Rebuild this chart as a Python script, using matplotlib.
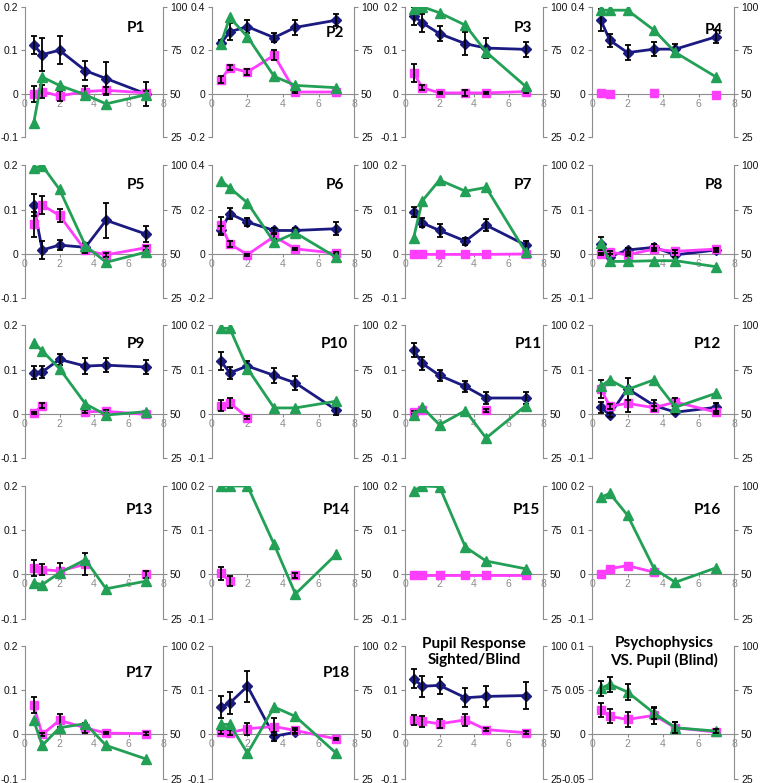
import numpy as np
import matplotlib.pyplot as plt

nan = np.nan

# time points (x axis)
DELAY = [0.5, 1, 2, 3.5, 4.7, 7]

PANELS = ['P1', 'P2', 'P3', 'P4', 'P5', 'P6', 'P7', 'P8', 'P9', 'P10',
          'P11', 'P12', 'P13', 'P14', 'P15', 'P16', 'P17', 'P18',
          'Pupil Response\nSighted/Blind', 'Psychophysics\nVS. Pupil (Blind)']

# left axis range per panel (low, high, step)
LEFT_RANGE = [(-0.1, 0.2, 0.1), (-0.2, 0.4, 0.2), (-0.1, 0.2, 0.1), (-0.2, 0.4, 0.2),
              (-0.1, 0.2, 0.1), (-0.2, 0.4, 0.2), (-0.1, 0.2, 0.1), (-0.1, 0.2, 0.1),
              (-0.1, 0.2, 0.1), (-0.1, 0.2, 0.1), (-0.1, 0.2, 0.1), (-0.1, 0.2, 0.1),
              (-0.1, 0.2, 0.1), (-0.1, 0.2, 0.1), (-0.1, 0.2, 0.1), (-0.1, 0.2, 0.1),
              (-0.1, 0.2, 0.1), (-0.1, 0.2, 0.1), (-0.1, 0.2, 0.1), (-0.05, 0.1, 0.05)]

NAVY = [[0.112, 0.09, 0.1, 0.053, 0.035, 0.0],
        [0.231, 0.285, 0.308, 0.258, 0.305, 0.338],
        [0.179, 0.163, 0.138, 0.115, 0.105, 0.102],
        [0.338, 0.246, 0.189, 0.205, 0.205, 0.262],
        [0.11, 0.009, 0.02, 0.015, 0.076, 0.045],
        [0.106, 0.182, 0.144, 0.106, 0.106, 0.114],
        [0.095, 0.07, 0.053, 0.029, 0.065, 0.02],
        [0.023, -0.006, 0.009, 0.015, -0.002, 0.009],
        [0.093, 0.095, 0.123, 0.108, 0.11, 0.106],
        [0.119, 0.093, 0.108, 0.087, 0.07, 0.009],
        [0.144, 0.114, 0.087, 0.062, 0.036, 0.036],
        [0.015, -0.002, 0.057, 0.019, 0.004, 0.015],
        [nan, nan, nan, nan, nan, nan],
        [nan, nan, nan, nan, nan, nan],
        [nan, nan, nan, nan, nan, nan],
        [nan, nan, nan, nan, nan, nan],
        [nan, nan, nan, nan, nan, nan],
        [0.062, 0.071, 0.109, -0.004, 0.005, nan],
        [0.126, 0.109, 0.111, 0.083, 0.086, 0.088],
        [nan, nan, nan, nan, nan, nan]]

NAVY_ERR = [[0.02, 0.038, 0.032, 0.022, 0.038, 0.028],
            [0.015, 0.04, 0.03, 0.022, 0.035, 0.028],
            [0.02, 0.02, 0.017, 0.026, 0.022, 0.017],
            [0.05, 0.03, 0.035, 0.032, 0.025, 0.03],
            [0.025, 0.02, 0.012, 0.01, 0.04, 0.018],
            [0.02, 0.025, 0.02, 0.01, 0.01, 0.03],
            [0.012, 0.01, 0.015, 0.008, 0.013, 0.01],
            [0.015, 0.005, 0.005, 0.008, 0.004, 0.005],
            [0.015, 0.014, 0.013, 0.018, 0.016, 0.016],
            [0.02, 0.013, 0.012, 0.017, 0.015, 0.012],
            [0.015, 0.015, 0.013, 0.012, 0.014, 0.013],
            [0.012, 0.004, 0.025, 0.012, 0.004, 0.01],
            [0, 0, 0, 0, 0, 0],
            [0, 0, 0, 0, 0, 0],
            [0, 0, 0, 0, 0, 0],
            [0, 0, 0, 0, 0, 0],
            [0, 0, 0, 0, 0, 0],
            [0.024, 0.024, 0.035, 0.01, 0.005, 0],
            [0.022, 0.024, 0.02, 0.022, 0.023, 0.03],
            [0, 0, 0, 0, 0, 0]]

PINK = [[0.0, 0.005, -0.005, 0.005, 0.008, 0.002],
        [0.065, 0.12, 0.1, 0.177, 0.008, 0.008],
        [0.048, 0.014, 0.002, 0.002, 0.002, 0.005],
        [0.003, -0.003, nan, 0.003, nan, -0.005],
        [0.067, 0.11, 0.087, 0.008, -0.002, 0.014],
        [0.129, 0.045, -0.003, 0.079, 0.023, 0.003],
        [-0.001, -0.001, -0.001, -0.001, -0.001, 0.0],
        [0.0, 0.004, -0.002, 0.011, 0.006, 0.011],
        [0.002, 0.019, nan, 0.005, 0.006, -0.001],
        [0.019, 0.025, -0.008, nan, nan, nan],
        [0.004, 0.008, nan, nan, 0.008, nan],
        [0.057, 0.017, 0.024, 0.014, 0.027, 0.004],
        [0.015, 0.011, 0.008, 0.023, nan, 0.0],
        [0.003, -0.015, nan, nan, -0.002, nan],
        [-0.001, -0.001, -0.001, -0.001, -0.001, -0.001],
        [0.001, 0.013, 0.02, 0.005, nan, nan],
        [0.066, 0.0, 0.032, 0.015, 0.003, 0.002],
        [0.005, 0.004, 0.013, 0.018, 0.009, -0.01],
        [0.033, 0.03, 0.024, 0.033, 0.011, 0.004],
        [0.028, 0.0205, 0.017, 0.0216, 0.0076, 0.0027]]

PINK_ERR = [[0.018, 0.015, 0.012, 0.012, 0.008, 0.005],
            [0.015, 0.012, 0.015, 0.022, 0.005, 0.005],
            [0.02, 0.005, 0.003, 0.006, 0.003, 0.003],
            [0, 0, 0, 0, 0, 0],
            [0.028, 0.02, 0.015, 0.005, 0.004, 0.005],
            [0.04, 0.015, 0.005, 0.01, 0.005, 0.005],
            [0, 0, 0, 0, 0, 0],
            [0.003, 0.003, 0.003, 0.003, 0.003, 0.003],
            [0.003, 0.005, 0, 0.003, 0.003, 0.003],
            [0.012, 0.012, 0.003, 0, 0, 0],
            [0.003, 0.003, 0, 0, 0.003, 0],
            [0.02, 0.005, 0.02, 0.005, 0.01, 0.003],
            [0.018, 0.012, 0.017, 0.025, 0, 0.008],
            [0.015, 0.012, 0, 0, 0.005, 0],
            [0, 0, 0, 0, 0, 0],
            [0, 0, 0, 0, 0, 0],
            [0.018, 0.003, 0.015, 0.012, 0.003, 0.003],
            [0.005, 0.005, 0.014, 0.02, 0.005, 0.003],
            [0.012, 0.012, 0.01, 0.014, 0.004, 0.003],
            [0.008, 0.008, 0.008, 0.01, 0.006, 0.002]]

# percent (right axis)
GREEN = [[33, 59.6, 54.8, 49.4, 44.2, 49.4],
         [78.8, 93.8, 82.7, 60, 54.8, 53.5],
         [98.5, 100, 96.5, 89.4, 74, 54.2],
         [98, 98, 98, 86.5, 73.7, 59.6],
         [98.3, 99.8, 86.4, 54.7, 45.3, 51],
         [91.3, 87.3, 78.8, 56.6, 61.9, 48.1],
         [59.1, 79.9, 91.7, 85.4, 87.5, 51],
         [56, 45.8, 45.8, 46.2, 46.2, 42.8],
         [90.3, 85.6, 75.6, 55.7, 49.4, 51.3],
         [98.3, 98.3, 75.6, 53.4, 53.4, 57.2],
         [49.6, 53.8, 43.9, 51.9, 36.4, 54.7],
         [65.5, 69.3, 63.8, 69.3, 53.8, 61.7],
         [45.3, 44.3, 50.9, 58.3, 41.9, 46.2],
         [100, 100, 100, 67, 39, 61.4],
         [97.3, 100, 99.6, 65.5, 57.6, 53.2],
         [93.6, 95.8, 83.5, 53.2, 45.6, 53.8],
         [58, 43.8, 53.8, 56.1, 43.8, 36.2],
         [55.7, 55.7, 39.4, 65.5, 60.2, 39.4],
         [nan, nan, nan, nan, nan, nan],
         [76, 78.4, 74, 62, 53.8, 51.9]]

GREEN_ERR = [[0, 0, 0, 0, 0, 0]] * 19 + [[4, 4.3, 4.5, 3, 3, 1]]

NAVY_C = '#1a1a80'
PINK_C = '#ff3dff'
GREEN_C = '#22a055'
GRAY = '#8c8c8c'

# layout in pixels
COL_LEFT = [25, 212, 405, 592]
COL_W = [138, 142, 138, 142]
ROW_TOP = [6.7, 165.3, 325.3, 486, 646]
ROW_H = [130.6, 133, 133, 132.7, 132.7]
LABEL_POS = [(0.87, 0.84), (0.93, 0.80), (0.92, 0.84), (0.92, 0.82),
             (0.87, 0.85), (0.93, 0.85), (0.92, 0.85), (0.92, 0.85),
             (0.87, 0.86), (0.96, 0.86), (0.99, 0.86), (0.91, 0.86),
             (0.93, 0.82), (0.97, 0.82), (0.98, 0.82), (0.91, 0.82),
             (0.93, 0.80), (0.97, 0.80), (0.5, 0.955), (0.51, 0.955)]

W, H = 760, 783
fig = plt.figure(figsize=(W / 100, H / 100), dpi=100)
plt.rcParams['font.family'] = ['Liberation Sans', 'DejaVu Sans']


def fmt(v):
    v = round(v, 4)
    return '0' if v == 0 else f'{v:g}'


def draw_series(ax, y, err, color, marker, ms):
    y = np.array(y, dtype=float)
    err = np.array(err, dtype=float)
    if np.all(np.isnan(y)):
        return
    ax.plot(DELAY, y, color=color, lw=2, marker=marker, ms=ms,
            mec=color, mfc=color, zorder=3)
    mask = (~np.isnan(y)) & (err > 0)
    if mask.any():
        ax.errorbar(np.array(DELAY)[mask], y[mask], yerr=err[mask], fmt='none',
                    ecolor='black', elinewidth=1.3, capsize=2, capthick=1.3,
                    zorder=4)


for i, name in enumerate(PANELS):
    r, c = divmod(i, 4)
    rect = [COL_LEFT[c] / W, 1 - (ROW_TOP[r] + ROW_H[r]) / H,
            COL_W[c] / W, ROW_H[r] / H]
    ax = fig.add_axes(rect)
    ax.patch.set_alpha(0)
    lo, hi, step = LEFT_RANGE[i]
    ax.set_ylim(lo, hi)
    ax.set_xlim(0, 8)
    ticks = np.arange(lo, hi + step / 2, step)
    ax.set_yticks(ticks)
    ax.set_yticklabels([fmt(t) for t in ticks])
    ax.set_xticks([0, 2, 4, 6, 8])
    ax.set_xticklabels(['0', '2', '4', '6', '8'])

    for s in ['top', 'right']:
        ax.spines[s].set_visible(False)
    ax.spines['left'].set_color(GRAY)
    ax.spines['bottom'].set_color(GRAY)
    ax.spines['bottom'].set_position(('data', 0))
    ax.tick_params(axis='y', length=3, color=GRAY, labelsize=7.5,
                   labelcolor='#111111', pad=2)
    ax.tick_params(axis='x', length=2, color=GRAY, labelsize=7.5,
                   labelcolor=GRAY, pad=1.5)

    draw_series(ax, NAVY[i], NAVY_ERR[i], NAVY_C, 'D', 5)
    draw_series(ax, PINK[i], PINK_ERR[i], PINK_C, 's', 5.5)

    ax2 = ax.twinx()
    ax2.set_ylim(25, 100)
    ax2.set_yticks([25, 50, 75, 100])
    for s in ['top', 'left', 'bottom']:
        ax2.spines[s].set_visible(False)
    ax2.spines['right'].set_color(GRAY)
    ax2.tick_params(axis='y', length=3, color=GRAY, labelsize=7.5,
                    labelcolor='#111111', pad=2)
    draw_series(ax2, GREEN[i], GREEN_ERR[i], GREEN_C, '^', 6.5)

    lx, ly = LABEL_POS[i]
    ha = 'center' if '\n' in name else 'right'
    ax2.text(lx, ly, name, transform=ax.transAxes, ha=ha, va='center',
             fontsize=11, fontweight='bold', family=['Lato', 'DejaVu Sans'],
             linespacing=1.25, zorder=6)

fig.savefig('out.png', dpi=100)
